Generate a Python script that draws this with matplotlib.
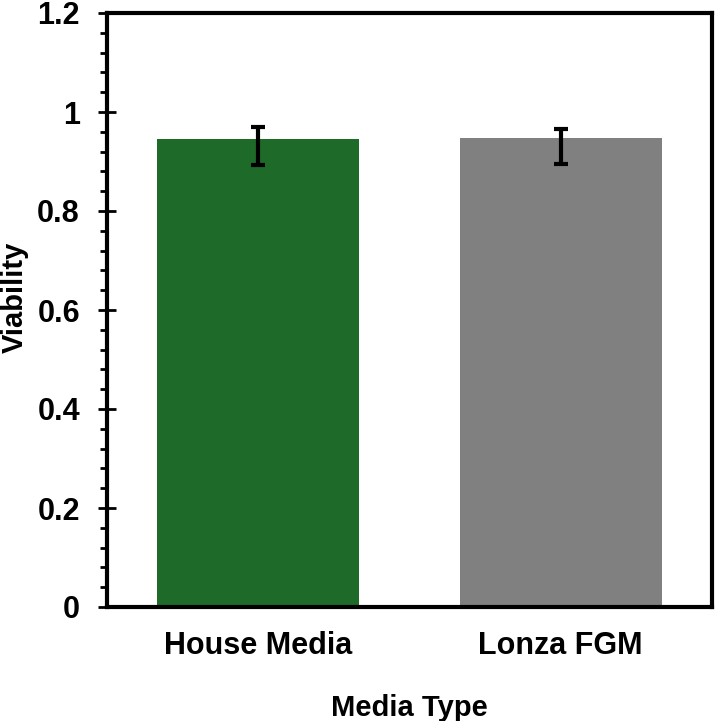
import matplotlib
matplotlib.use("Agg")
import matplotlib.pyplot as plt
from matplotlib.ticker import MultipleLocator, FixedLocator

categories = ["House Media", "Lonza FGM"]
viability = [0.945, 0.947]
err_lower = [0.052, 0.052]
err_upper = [0.024, 0.019]
colors = ["#1e6a28", "#808080"]
yticks = [0, 0.2, 0.4, 0.6, 0.8, 1.0, 1.2]
ytick_labels = ["0", "0.2", "0.4", "0.6", "0.8", "1", "1.2"]

plt.rcParams['font.family'] = ['Liberation Sans', 'DejaVu Sans']
plt.rcParams['font.weight'] = 'bold'

fig = plt.figure(figsize=(7.2, 7.21), dpi=100)
ax = fig.add_axes([107/720, 1 - 607/721, (712-107)/720, (607-13)/721])

x = list(range(len(categories)))
ax.bar(x, viability, width=0.667, color=colors, zorder=2)
ax.errorbar(x, viability, yerr=[err_lower, err_upper], fmt='none',
            ecolor='black', elinewidth=3, capsize=5, capthick=3, zorder=3)

ax.set_xlim(-0.5, 1.5)
ax.set_ylim(0, 1.2)
ax.set_xticks(x)
ax.set_xticklabels(categories, fontsize=22, fontweight='bold')
ax.tick_params(axis='x', length=0, pad=17)
ax.yaxis.set_major_locator(FixedLocator(yticks))
ax.set_yticklabels(ytick_labels, fontsize=22, fontweight='bold')
ax.yaxis.set_minor_locator(MultipleLocator(0.04))
ax.tick_params(axis='y', which='major', direction='inout', length=13, width=2, pad=13)
ax.tick_params(axis='y', which='minor', direction='out', length=5, width=2)

for s in ax.spines.values():
    s.set_linewidth(3)

ax.set_ylabel("Viability", fontsize=21, fontweight='bold')
ax.yaxis.set_label_coords((29 - 107) / 605, 0.522)
ax.set_xlabel("Media Type", fontsize=21, fontweight='bold', labelpad=24)

fig.savefig("out.png", dpi=100)
